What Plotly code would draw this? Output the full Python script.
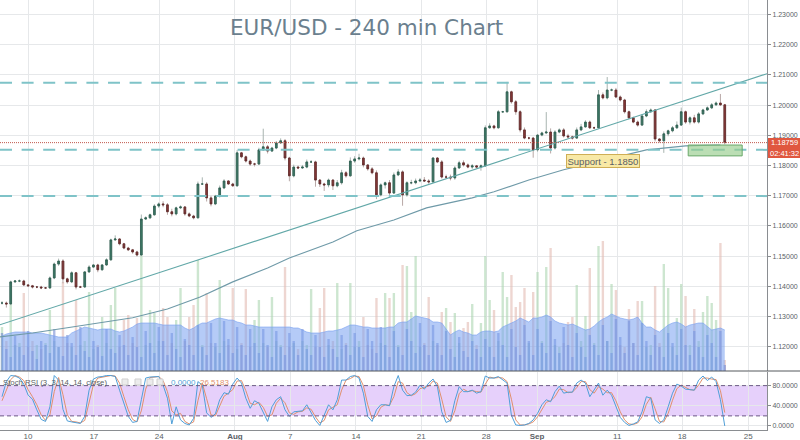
import plotly.graph_objects as go

# EUR/USD candles, one row per week (3 bars a day)
closes = [
    1.1345, 1.1342, 1.1415, 1.1418, 1.1418, 1.1405, 1.1402, 1.1398, 1.1398, 1.1395, 1.1395, 1.1428, 1.1474, 1.1484, 1.1425,
    1.1415, 1.1445, 1.1398, 1.1398, 1.1448, 1.1464, 1.1471, 1.1455, 1.1471, 1.1488, 1.1554, 1.1557, 1.1541, 1.1527, 1.1521,
    1.1514, 1.1504, 1.1623, 1.1627, 1.1637, 1.1666, 1.1673, 1.1670, 1.1647, 1.1640, 1.1660, 1.1663, 1.1640, 1.1633, 1.1627,
    1.1739, 1.1739, 1.1693, 1.1673, 1.1699, 1.1726, 1.1749, 1.1739, 1.1733, 1.1842, 1.1829, 1.1815, 1.1805, 1.1805, 1.1852,
    1.1862, 1.1848, 1.1858, 1.1875, 1.1882, 1.1825, 1.1766, 1.1795, 1.1792, 1.1795, 1.1812, 1.1812, 1.1752, 1.1739, 1.1736,
    1.1752, 1.1733, 1.1743, 1.1776, 1.1766, 1.1815, 1.1822, 1.1825, 1.1802, 1.1789, 1.1776, 1.1703, 1.1736, 1.1743, 1.1709,
    1.1769, 1.1779, 1.1703, 1.1743, 1.1743, 1.1749, 1.1752, 1.1749, 1.1746, 1.1825, 1.1812, 1.1762, 1.1762, 1.1759, 1.1792,
    1.1809, 1.1802, 1.1795, 1.1799, 1.1795, 1.1799, 1.1925, 1.1931, 1.1925, 1.1978, 1.1978, 1.2044, 1.2011, 1.1978, 1.1918,
    1.1891, 1.1891, 1.1852, 1.1901, 1.1908, 1.1911, 1.1858, 1.1911, 1.1918, 1.1898, 1.1895, 1.1891, 1.1918, 1.1928, 1.1944,
    1.1925, 1.1925, 1.2034, 1.2024, 1.2050, 1.2050, 1.2027, 1.2017, 1.1978, 1.1958, 1.1944, 1.1934, 1.1964, 1.1978, 1.1984,
    1.1888, 1.1882, 1.1905, 1.1915, 1.1925, 1.1934, 1.1978, 1.1944, 1.1958, 1.1944, 1.1971, 1.1984, 1.1991, 1.2001, 1.2007,
    1.2001, 1.1876,
]
# upper and lower wicks in pips
wick_up = [
    6, 5, 4, 3, 5, 4, 3, 3, 3, 4, 3, 5, 5, 8, 6,
    4, 5, 3, 4, 3, 6, 3, 4, 3, 5, 4, 12, 3, 3, 4,
    3, 4, 15, 5, 4, 6, 5, 9, 6, 10, 4, 5, 3, 5, 4,
    8, 22, 6, 7, 4, 8, 6, 3, 4, 9, 3, 4, 5, 4, 7,
    60, 6, 4, 6, 8, 6, 4, 8, 5, 7, 8, 6, 4, 3, 4,
    5, 3, 9, 10, 6, 12, 9, 14, 5, 3, 6, 8, 5, 4, 9,
    8, 9, 5, 5, 10, 8, 7, 10, 6, 3, 3, 6, 8, 8, 6,
    7, 8, 5, 6, 3, 5, 8, 9, 4, 6, 3, 33, 4, 6, 5,
    8, 4, 4, 3, 4, 66, 12, 6, 5, 6, 7, 4, 8, 10, 6,
    5, 4, 16, 8, 43, 5, 7, 5, 4, 4, 4, 5, 6, 8, 5,
    3, 3, 8, 4, 6, 12, 14, 4, 5, 10, 6, 4, 5, 6, 5,
    30, 3,
]
wick_down = [
    5, 12, 4, 3, 4, 4, 4, 5, 4, 4, 3, 3, 4, 6, 15,
    6, 4, 8, 3, 3, 3, 3, 8, 3, 3, 3, 3, 5, 4, 4,
    6, 5, 3, 3, 4, 3, 6, 8, 10, 8, 5, 4, 6, 4, 5,
    2, 3, 12, 8, 4, 5, 4, 3, 3, 3, 5, 5, 6, 8, 3,
    3, 8, 3, 4, 3, 8, 18, 5, 4, 3, 4, 3, 22, 10, 20,
    8, 14, 5, 6, 6, 3, 6, 5, 8, 6, 5, 14, 5, 12, 8,
    3, 4, 36, 6, 5, 5, 4, 3, 6, 3, 4, 5, 5, 8, 6,
    3, 5, 4, 6, 4, 12, 3, 3, 5, 3, 3, 3, 6, 10, 8,
    4, 5, 26, 6, 4, 4, 18, 5, 4, 5, 6, 5, 3, 4, 3,
    4, 4, 3, 5, 5, 4, 4, 5, 6, 5, 4, 5, 3, 4, 3,
    8, 6, 40, 8, 5, 4, 3, 6, 8, 5, 5, 4, 3, 4, 4,
    4, 6,
]
volume = [
    44, 30, 68, 26, 28, 78, 24, 30, 26, 22, 28, 61, 30, 24, 89,
    28, 24, 71, 26, 30, 79, 22, 26, 54, 28, 66, 83, 24, 51, 56,
    28, 53, 124, 26, 61, 58, 30, 63, 54, 28, 51, 83, 30, 54, 66,
    111, 26, 78, 28, 24, 91, 30, 26, 83, 22, 28, 82, 24, 51, 71,
    28, 24, 74, 30, 26, 104, 24, 28, 22, 30, 26, 82, 24, 63, 83,
    26, 30, 88, 22, 28, 88, 24, 30, 54, 26, 22, 73, 28, 78, 73,
    78, 26, 106, 105, 59, 115, 24, 28, 74, 30, 26, 59, 63, 49, 58,
    28, 43, 49, 67, 26, 48, 115, 71, 61, 30, 99, 74, 96, 64, 69,
    83, 28, 79, 99, 30, 104, 123, 26, 24, 28, 49, 54, 86, 30, 55,
    103, 28, 125, 130, 30, 87, 81, 26, 24, 62, 28, 70, 70, 24, 26,
    85, 28, 107, 83, 24, 53, 87, 75, 26, 62, 30, 59, 75, 68, 51,
    128, 11,
]
blue_bars = [
    38, 22, 14, 35, 24, 16, 40, 20, 12, 30, 26, 18, 42, 24, 15,
    36, 28, 16, 44, 20, 14, 30, 24, 15, 42, 22, 18, 36, 26, 16,
    34, 24, 14, 40, 28, 18, 44, 30, 16, 38, 22, 14, 32, 26, 16,
    46, 24, 16, 48, 28, 18, 50, 32, 18, 44, 26, 16, 42, 28, 18,
    42, 26, 14, 40, 24, 16, 38, 30, 16, 42, 22, 16, 36, 24, 14,
    32, 22, 14, 36, 26, 16, 38, 24, 14, 42, 30, 18, 44, 26, 14,
    40, 24, 16, 42, 30, 18, 48, 26, 16, 46, 28, 16, 40, 22, 14,
    34, 20, 14, 30, 22, 14, 32, 24, 14, 38, 26, 14, 42, 24, 16,
    46, 30, 16, 42, 28, 18, 50, 32, 18, 44, 26, 14, 38, 24, 14,
    36, 26, 16, 46, 30, 18, 52, 34, 18, 50, 28, 16, 48, 30, 16,
    36, 24, 14, 38, 28, 16, 42, 26, 16, 40, 24, 14, 36, 28, 14,
    40, 6,
]
volume_area = [
    35, 37, 38, 39, 39, 39, 39, 38, 38, 38, 37, 36, 35, 34, 34,
    34, 38, 40, 42, 44, 43, 42, 41, 42, 42, 42, 40, 39, 40, 42,
    44, 47, 48, 48, 48, 48, 47, 46, 46, 46, 46, 46, 43, 41, 43,
    46, 48, 48, 50, 52, 53, 52, 51, 51, 49, 48, 46, 46, 45, 44,
    44, 44, 44, 44, 44, 44, 44, 43, 43, 41, 39, 38, 38, 38, 39,
    40, 40, 41, 42, 44, 46, 46, 45, 44, 44, 43, 43, 43, 43, 44,
    44, 48, 49, 49, 52, 55, 54, 53, 52, 49, 49, 48, 42, 36, 39,
    41, 39, 38, 36, 36, 39, 40, 40, 39, 40, 44, 46, 48, 50, 53,
    51, 49, 53, 53, 54, 56, 54, 50, 48, 47, 46, 47, 45, 43, 41,
    42, 45, 49, 52, 54, 57, 55, 53, 52, 51, 52, 54, 48, 44, 44,
    41, 39, 43, 46, 48, 49, 47, 44, 46, 47, 48, 48, 44, 41, 42,
    43, 41,
]
stoch_k = [
    58, 88, 100, 99, 95, 83, 61, 53, 32, 13, 9, 38, 100, 91, 33,
    10, 8, 7, 5, 19, 71, 93, 97, 98, 100, 100, 98, 71, 45, 19,
    7, 9, 52, 95, 97, 98, 98, 81, 55, 4, 38, 12, 5, 2, 15,
    88, 81, 26, 17, 24, 52, 66, 63, 83, 95, 85, 55, 35, 50, 45,
    28, 9, 38, 52, 58, 32, 19, 28, 29, 30, 42, 25, 11, 1, 22,
    42, 32, 52, 91, 91, 98, 100, 95, 65, 19, 9, 32, 42, 42, 40,
    78, 100, 71, 60, 61, 67, 81, 73, 85, 93, 78, 28, 7, 11, 50,
    78, 68, 68, 71, 65, 68, 99, 95, 95, 98, 91, 85, 21, 2, 1,
    2, 5, 12, 25, 42, 52, 48, 68, 79, 65, 67, 67, 85, 91, 85,
    58, 71, 85, 61, 71, 61, 38, 17, 7, 1, 4, 8, 28, 58, 55,
    12, 5, 12, 38, 65, 83, 79, 73, 72, 71, 91, 99, 90, 97, 88,
    52, 0,
]
stoch_d = [
    50, 72, 92, 100, 97, 90, 72, 58, 42, 22, 11, 22, 68, 96, 62,
    22, 9, 8, 6, 11, 44, 82, 95, 97, 99, 100, 99, 85, 58, 32,
    13, 8, 30, 73, 96, 97, 98, 90, 68, 30, 22, 25, 9, 4, 8,
    50, 85, 54, 22, 20, 38, 59, 65, 72, 89, 90, 70, 45, 42, 47,
    37, 19, 22, 45, 55, 46, 26, 23, 28, 29, 36, 33, 18, 6, 11,
    32, 37, 42, 71, 91, 94, 99, 98, 80, 42, 14, 20, 37, 42, 41,
    58, 88, 85, 66, 60, 64, 74, 77, 79, 89, 85, 53, 18, 9, 30,
    64, 73, 68, 70, 68, 67, 83, 97, 95, 96, 95, 88, 53, 12, 2,
    2, 4, 8, 18, 33, 47, 50, 58, 73, 72, 66, 67, 76, 88, 88,
    72, 65, 78, 73, 66, 66, 50, 28, 12, 4, 3, 6, 18, 43, 57,
    34, 9, 8, 25, 51, 74, 81, 76, 72, 71, 81, 95, 95, 93, 92,
    70, 26.5,
]

# slow moving average, read at a few places along the curve
ma_bars = [-0.5, 7, 15, 22.5, 30, 38, 45.5, 53, 61, 66, 76, 81.5, 90, 97.5, 108, 113, 121, 129, 148, 157, 165]
ma_values = [1.1233, 1.1246, 1.1263, 1.1279, 1.1296, 1.1325, 1.1365, 1.1415, 1.1461, 1.1494, 1.1547,
             1.1584, 1.1620, 1.1660, 1.1693, 1.1713, 1.1752, 1.1786, 1.1852, 1.1865, 1.1868]
trend_bars = [-0.5, 175.7]
trend_values = [1.1273, 1.2104]

levels = [1.2074, 1.1852, 1.1699]
last_price = 1.18759
support_box = [157.6, 170, 1.1832, 1.1868]

price_ticks = [1.12, 1.13, 1.14, 1.15, 1.16, 1.17, 1.18, 1.19, 1.20, 1.21, 1.22, 1.23]
stoch_ticks = [0, 40, 80]
date_ticks = [5.97, 21.1, 36.1, 53.5, 66.2, 81.3, 96.3, 111.2, 122.9, 141.3, 156.2, 171.4]
date_labels = ['10', '17', '24', '<b>Aug</b>', '7', '14', '21', '28', '<b>Sep</b>', '11', '18', '25']
legend_icons = [122, 135, 147, 157]

bars = list(range(len(closes)))
opens = [closes[0]] + closes[:-1]
body_top = [max(o, c) for o, c in zip(opens, closes)]
body_low = [min(o, c) for o, c in zip(opens, closes)]
highs = [t + w / 10000 for t, w in zip(body_top, wick_up)]
lows = [b - w / 10000 for b, w in zip(body_low, wick_down)]
vol_colors = ['rgba(172,214,176,0.6)' if c >= o else 'rgba(226,186,178,0.6)' for o, c in zip(opens, closes)]

GRID = '#e6e8ea'
TEXT = '#5b5f66'
AXIS = '#8a8d91'
W, H = 800, 440


def xp(x):
    return x / W


def yp(y):
    return (H - y) / H


def label(x, y, text, size, color, family='Liberation Sans', xanchor='center'):
    # paper annotations anchor by thirds unless told otherwise
    fig.add_annotation(x=xp(x), y=yp(y), xref='paper', yref='paper', text=text, showarrow=False,
                       xanchor=xanchor, yanchor='middle', xshift=0, borderpad=0,
                       font=dict(family=family, size=size, color=color))


fig = go.Figure()

# volume pane sits behind the price axis
fig.add_trace(go.Bar(x=bars, y=volume, marker=dict(color=vol_colors, line_width=0), width=0.55, xaxis='x', yaxis='y'))
fig.add_trace(go.Scatter(x=bars, y=volume_area, mode='lines', fill='tozeroy', fillcolor='rgba(120,160,240,0.55)',
                         line=dict(color='rgba(120,160,240,0.6)', width=1), xaxis='x', yaxis='y'))
fig.add_trace(go.Bar(x=bars, y=blue_bars, marker=dict(color='rgba(105,130,205,0.55)', line_width=0), width=0.55,
                     xaxis='x', yaxis='y'))

# wicks first in a pale colour, then the bodies on top
fig.add_trace(go.Candlestick(x=bars, open=opens, high=highs, low=lows, close=closes,
                             increasing=dict(line=dict(color='#a8b4b0', width=1), fillcolor='#a8b4b0'),
                             decreasing=dict(line=dict(color='#b8a8a6', width=1), fillcolor='#b8a8a6'),
                             xaxis='x', yaxis='y2'))
fig.add_trace(go.Candlestick(x=bars, open=opens, high=body_top, low=body_low, close=closes,
                             increasing=dict(line=dict(color='#2f5f50', width=0.8), fillcolor='#3f7a68'),
                             decreasing=dict(line=dict(color='#5e2a2a', width=0.8), fillcolor='#8c3a3a'),
                             xaxis='x', yaxis='y2'))

fig.add_trace(go.Scatter(x=trend_bars, y=trend_values, mode='lines', line=dict(color='#62a8a8', width=1.1),
                         xaxis='x', yaxis='y2'))
fig.add_trace(go.Scatter(x=ma_bars, y=ma_values, mode='lines', line=dict(color='#6f9aa8', width=1.1),
                         xaxis='x', yaxis='y2'))

# stochastic pane
fig.add_trace(go.Scatter(x=bars, y=stoch_d, mode='lines', line=dict(color='#e0906e', width=1), xaxis='x2', yaxis='y3'))
fig.add_trace(go.Scatter(x=bars, y=stoch_k, mode='lines', line=dict(color='#4f9fd8', width=1), xaxis='x2', yaxis='y3'))

for level in levels:
    fig.add_shape(type='line', xref='x domain', yref='y2', x0=0, x1=1, y0=level, y1=level,
                  line=dict(color='#7fc3c8', width=2, dash='12px,9.6px'))
fig.add_shape(type='line', xref='x domain', yref='y2', x0=0, x1=1, y0=last_price, y1=last_price,
              line=dict(color='#c0574c', width=1, dash='1px,1px'))
fig.add_shape(type='rect', xref='x', yref='y2', x0=support_box[0], x1=support_box[1], y0=support_box[2], y1=support_box[3],
              fillcolor='rgba(150,205,140,0.65)', line=dict(color='#6aa86a', width=1))

fig.add_shape(type='rect', xref='x2 domain', yref='y3', x0=0, x1=1, y0=20, y1=80, fillcolor='#e6d0fb',
              line_width=0, layer='below')
for level in [20, 80]:
    fig.add_shape(type='line', xref='x2 domain', yref='y3', x0=0, x1=1, y0=level, y1=level,
                  line=dict(color='#6c5a86', width=1, dash='4px,3px'))

# pane separator and the price tag, both run over the axis gutter
fig.add_shape(type='line', xref='paper', yref='paper', x0=0, x1=1, y0=yp(371), y1=yp(371),
              line=dict(color='#55585c', width=1))
fig.add_shape(type='rect', xref='paper', yref='paper', x0=xp(768), x1=1, y0=yp(158), y1=yp(138),
              fillcolor='#e0573f', line_width=0)
for left in legend_icons:
    fig.add_shape(type='rect', xref='paper', yref='paper', x0=xp(left), x1=xp(left + 6), y0=yp(385), y1=yp(379),
                  fillcolor='#ececec', line=dict(color='#cfcfcf', width=1))

label(784.5, 143, '1.18759', 7.5, 'white')
label(784.5, 153, '02:41:32', 7.5, 'white')
fig.add_annotation(x=138, y=1.1815, xref='x', yref='y2', text='Support - 1.1850', showarrow=False,
                   bgcolor='#f8e9a6', bordercolor='#cfae55', borderwidth=1, borderpad=0.5,
                   font=dict(family='Liberation Sans', size=9.5, color='#5b5f66'))
label(366, 27, 'EUR/USD - 240 min Chart', 21.5, '#6b7f8e', family='DejaVu Sans')
label(2, 382, 'Stoch RSI (3, 3, 14, 14, close)', 7.8, '#5b5f66', xanchor='left')
label(170, 382, '0.0000', 8, '#4f9fd8', xanchor='left')
label(199, 382, '26.5183', 8, '#e0906e', xanchor='left')

x_domain = [0, 767 / W]
fig.update_layout(
    width=W, height=H,
    margin=dict(l=0, r=0, t=0, b=0, autoexpand=False),
    paper_bgcolor='white',
    plot_bgcolor='white',
    showlegend=False,
    barmode='overlay',
    boxgap=0.45,
    xaxis=dict(domain=x_domain, range=[-0.46, 175.7], showgrid=True, gridcolor=GRID, tickvals=date_ticks,
               showticklabels=False, anchor='y', rangeslider=dict(visible=False), zeroline=False, ticks=''),
    yaxis=dict(domain=[yp(371), 1], range=[0, 371], showgrid=False, showticklabels=False, zeroline=False),
    yaxis2=dict(domain=[yp(371), 1], range=[1.1120, 1.2348], overlaying='y', side='right', tickvals=price_ticks,
                tickformat='.5f', showgrid=True, gridcolor=GRID, ticks='outside', ticklen=3, tickcolor=AXIS,
                showline=True, linecolor=AXIS, tickfont=dict(family='Liberation Sans', size=7, color=TEXT), zeroline=False),
    xaxis2=dict(domain=x_domain, range=[-0.46, 175.7], anchor='y3', tickvals=date_ticks, ticktext=date_labels, showgrid=True,
                gridcolor=GRID, showline=True, linecolor=AXIS, zeroline=False, ticks='', ticklabelstandoff=-2,
                tickfont=dict(family='Liberation Sans', size=8, color=TEXT)),
    yaxis3=dict(domain=[yp(430), yp(372)], range=[-8, 107], side='right', anchor='x2', tickvals=stoch_ticks, tickformat='.4f',
                showgrid=True, gridcolor=GRID, ticks='outside', ticklen=3, tickcolor=AXIS, showline=True,
                linecolor=AXIS, tickfont=dict(family='Liberation Sans', size=7, color=TEXT), zeroline=False),
)

fig.write_html("out.html", post_script="document.body.style.margin='0';", config={'displayModeBar': False})
